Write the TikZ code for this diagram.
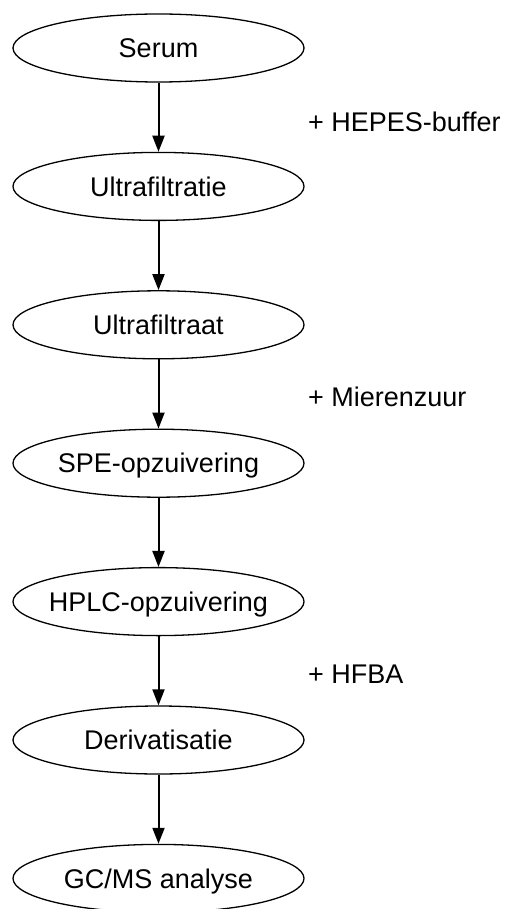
\documentclass[tikz,border=0pt]{standalone}
\usepackage{fontspec}
\setmainfont{Liberation Sans}
\usetikzlibrary{shapes.geometric,arrows.meta}

\begin{document}
\begin{tikzpicture}[x=1pt, y=1pt,
	stap/.style={draw, line width=1.3pt, ellipse, minimum width=291pt, minimum height=68pt, inner xsep=-20pt, inner ysep=0pt, font=\fontsize{27}{31}\selectfont, text height=19.4pt, text depth=0pt},
	extra/.style={anchor=west, inner sep=0pt, font=\fontsize{27}{31}\selectfont, text height=19.4pt, text depth=0pt},
	pijl/.style={line width=2pt, arrows={-{Triangle[width=12pt, length=16pt]}}}]
	\useasboundingbox (0,0) rectangle (506,-909);
	\node[stap] (serum) at (158.5,-48) {Serum};
	\node[stap] (filtratie) at (158.5,-186.4) {Ultrafiltratie};
	\node[stap] (filtraat) at (158.5,-324.8) {Ultrafiltraat};
	\node[stap] (spe) at (158.5,-463.2) {SPE-opzuivering};
	\node[stap] (hplc) at (158.5,-601.6) {HPLC-opzuivering};
	\node[stap] (deriv) at (158.5,-740) {Derivatisatie};
	\node[stap] (gcms) at (158.5,-878.4) {GC/MS analyse};
	\draw[pijl] (serum) -- (filtratie);
	\draw[pijl] (filtratie) -- (filtraat);
	\draw[pijl] (filtraat) -- (spe);
	\draw[pijl] (spe) -- (hplc);
	\draw[pijl] (hplc) -- (deriv);
	\draw[pijl] (deriv) -- (gcms);
	% toevoegingen
	\node[extra] (hepes) at (308,-122) {+ HEPES-buffer};
	\node[extra] (mieren) at (308,-397) {+ Mierenzuur};
	\node[extra] (hfba) at (308,-674) {+ HFBA};
\end{tikzpicture}
\end{document}
